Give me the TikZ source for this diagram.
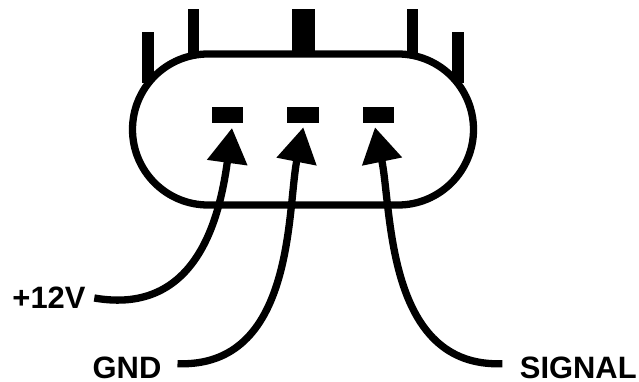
\documentclass[tikz,border=0pt]{standalone}
\usepackage{fontspec}
\setmainfont{Liberation Sans}
\usetikzlibrary{arrows.meta}
\tikzset{
  pinbar/.style={fill=black,inner sep=0pt,outer sep=0pt,minimum width=#1,minimum height=45pt},
  tallbar/.style={fill=black,inner sep=0pt,outer sep=0pt,minimum width=11.4pt,minimum height=51pt},
  socket/.style={fill=black,inner sep=0pt,outer sep=0pt,minimum width=31.4pt,minimum height=16pt},
  shell/.style={draw=black,fill=white,line width=7.3pt},
  wire/.style={draw=black,line width=7.3pt,-{Triangle[length=35pt,width=39pt]}},
  lab/.style={font=\bfseries\fontsize{30.9}{32}\selectfont,anchor=base,inner sep=0pt,text=black}
}
\begin{document}
\begin{tikzpicture}[x=1pt,y=-1pt]
\useasboundingbox (0,0) rectangle (639,382);
\node[tallbar] (kl) at (148,57.5) {};
\node[tallbar] (kr) at (458,57.5) {};
\node[pinbar=11.4pt] (pa) at (193.3,31.5) {};
\node[pinbar=23pt] (pb) at (303.5,31.5) {};
\node[pinbar=11.4pt] (pc) at (412.7,31.5) {};
\draw[shell,rounded corners=75.5pt] (132.5,54) rectangle (473.5,205);
\node[socket] (s1) at (227.3,114.7) {};
\node[socket] (s2) at (303,114.7) {};
\node[socket] (s3) at (378.7,114.7) {};
\node[lab] (l1) at (49,308.3) {+12V};
\node[lab] (l2) at (127,378) {GND};
\node[lab] (l3) at (578.3,378) {SIGNAL};
\coordinate (a1) at (94.3,298);
\coordinate (a2) at (177.5,363.7);
\coordinate (a3) at (502.3,363.7);
\coordinate (t1) at (232,128);
\coordinate (t2) at (303.3,127.3);
\coordinate (t3) at (375,127.3);
\draw[wire] (a1) .. controls (198,316) and (220,215) .. (t1);
\draw[wire] (a2) .. controls (295,368) and (287,210) .. (t2);
\draw[wire] (a3) .. controls (386,368) and (392,210) .. (t3);
\end{tikzpicture}
\end{document}
